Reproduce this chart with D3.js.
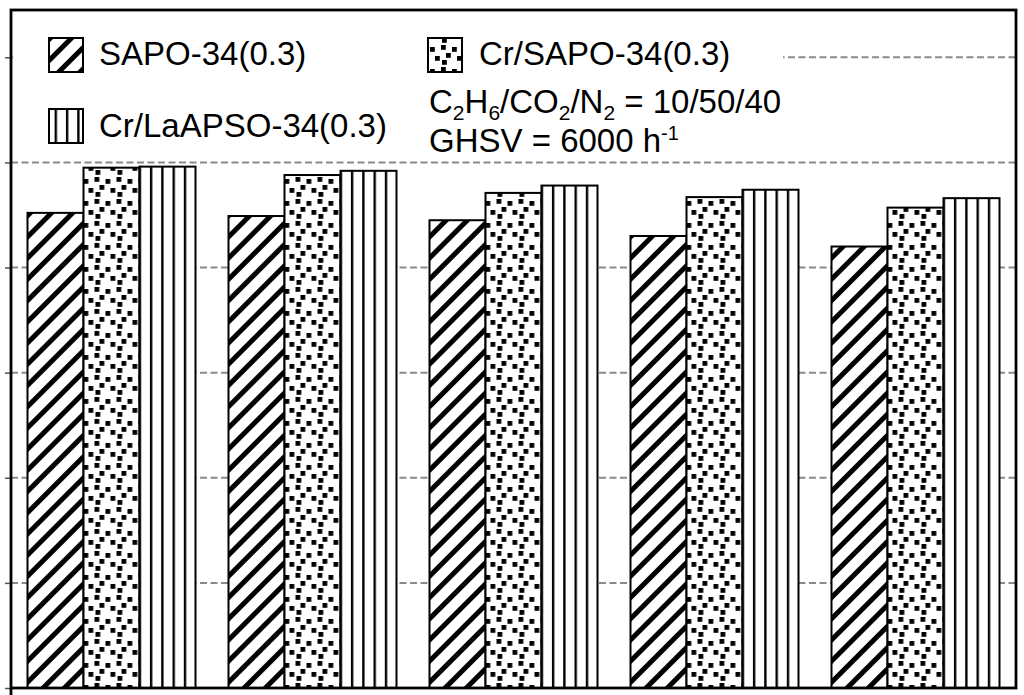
<!DOCTYPE html>
<html>
<head>
<meta charset="utf-8">
<script src="https://cdn.jsdelivr.net/npm/d3@7"></script>
<style>
  html, body { margin: 0; padding: 0; background: #fff; }
  svg { display: block; font-family: "Liberation Sans", Arial, sans-serif; }
</style>
</head>
<body>
<svg id="chart" width="1024" height="695"></svg>
<script>
// ---- data ----
const categories = ["1", "2", "3", "4", "5"];
const seriesNames = ["SAPO-34(0.3)", "Cr/SAPO-34(0.3)", "Cr/LaAPSO-34(0.3)"];
const sapoValues = [45.2, 44.9, 44.5, 43.0, 42.0];
const crSapoValues = [49.5, 48.8, 47.1, 46.7, 45.7];
const crLaValues = [49.6, 49.2, 47.8, 47.4, 46.6];
const yTicks = [0, 10, 20, 30, 40, 50, 60];

const seriesValues = [sapoValues, crSapoValues, crLaValues];
const patternIds = ["hatch", "dots", "vlines"];

const svg = d3.select("#chart");
const plot = { left: 11, right: 1016, top: 10, bottom: 688 };

// ---- patterns ----
const defs = svg.append("defs");
const hatch = defs.append("pattern").attr("id", "hatch")
  .attr("patternUnits", "userSpaceOnUse").attr("width", 15).attr("height", 15)
  .attr("patternTransform", "rotate(45)");
hatch.append("rect").attr("width", 15).attr("height", 15).attr("fill", "#fff");
hatch.append("rect").attr("x", 0).attr("width", 5).attr("height", 15).attr("fill", "#000");

const dots = defs.append("pattern").attr("id", "dots")
  .attr("patternUnits", "userSpaceOnUse").attr("width", 22).attr("height", 22);
dots.append("rect").attr("width", 22).attr("height", 22).attr("fill", "#fff");
const dotPos = [[1,1],[12,3],[6,9],[17,12],[2,16]];
dots.selectAll("rect.d").data(dotPos).join("rect").attr("class", "d")
  .attr("x", d => d[0]).attr("y", d => d[1]).attr("width", 4.8).attr("height", 4.8).attr("fill", "#000");

const vl = defs.append("pattern").attr("id", "vlines")
  .attr("patternUnits", "userSpaceOnUse").attr("x", 145).attr("width", 11.3).attr("height", 10);
vl.append("rect").attr("width", 11.3).attr("height", 10).attr("fill", "#fff");
vl.append("rect").attr("x", 0).attr("width", 2.4).attr("height", 10).attr("fill", "#000");

// ---- scales ----
const x0 = d3.scaleBand().domain(categories).range([plot.left, plot.right])
  .paddingInner(0.1642).paddingOuter(0.0821);
const x1 = d3.scaleBand().domain(seriesNames).range([0, x0.bandwidth()]).padding(0);
const y = d3.scaleLinear().domain([0, 64.5]).range([plot.bottom, plot.top]);

// ---- gridlines ----
svg.append("g").selectAll("line").data(yTicks.filter(t => t > 0)).join("line")
  .attr("x1", plot.left).attr("x2", plot.right)
  .attr("y1", d => y(d)).attr("y2", d => y(d))
  .attr("stroke", "#8a8a8a").attr("stroke-width", 2).attr("stroke-dasharray", "7,3.5");

// ---- y axis ticks (labels are outside the visible area) ----
const yAxis = svg.append("g").attr("transform", `translate(${plot.left},0)`)
  .call(d3.axisLeft(y).tickValues(yTicks).tickSize(6).tickFormat(""));
yAxis.select(".domain").remove();
yAxis.selectAll(".tick line").attr("stroke", "#555").attr("stroke-width", 1.5);

// ---- legend background ----
svg.append("rect").attr("x", 13).attr("y", 12).attr("width", 770).attr("height", 140).attr("fill", "#fff");

// ---- bars ----
const rows = categories.map((c, i) => ({ cat: c, vals: seriesNames.map((s, j) => ({ s, j, v: seriesValues[j][i] })) }));
const groups = svg.append("g").selectAll("g").data(rows).join("g")
  .attr("transform", d => `translate(${x0(d.cat)},0)`);
groups.selectAll("rect").data(d => d.vals).join("rect")
  .attr("x", d => x1(d.s)).attr("width", x1.bandwidth())
  .attr("y", d => y(d.v)).attr("height", d => y(0) - y(d.v))
  .attr("fill", d => `url(#${patternIds[d.j]})`)
  .attr("stroke", "#000").attr("stroke-width", 2);

// ---- frame ----
svg.append("rect").attr("x", plot.left).attr("y", plot.top)
  .attr("width", plot.right - plot.left).attr("height", plot.bottom - plot.top)
  .attr("fill", "none").attr("stroke", "#000").attr("stroke-width", 2.8);
svg.append("line").attr("x1", plot.left).attr("x2", plot.left).attr("y1", plot.bottom).attr("y2", 695)
  .attr("stroke", "#000").attr("stroke-width", 2.8);

// ---- legend ----
const legendItems = [
  { name: seriesNames[0], pid: patternIds[0], sx: 49, sy: 38, tx: 99, ty: 65 },
  { name: seriesNames[1], pid: patternIds[1], sx: 428, sy: 38, tx: 479, ty: 65 },
  { name: seriesNames[2], pid: patternIds[2], sx: 49, sy: 109, tx: 99, ty: 137 }
];
const lg = svg.append("g");
lg.selectAll("rect").data(legendItems).join("rect")
  .attr("x", d => d.sx).attr("y", d => d.sy).attr("width", 34).attr("height", 34)
  .attr("fill", d => `url(#${d.pid})`).attr("stroke", "#000").attr("stroke-width", 2);
lg.selectAll("text").data(legendItems).join("text")
  .attr("x", d => d.tx).attr("y", d => d.ty)
  .attr("font-size", 33).attr("fill", "#000").text(d => d.name);

// ---- annotation ----
const t1 = svg.append("text").attr("x", 429).attr("y", 113).attr("font-size", 33).attr("fill", "#000");
const parts = [["C",0],["2",1],["H",0],["6",1],["/CO",0],["2",1],["/N",0],["2",1],[" = 10/50/40",0]];
let prevSub = false;
parts.forEach(([txt, sub]) => {
  const ts = t1.append("tspan").text(txt);
  if (sub) { ts.attr("font-size", 21).attr("dy", prevSub ? 0 : 7); prevSub = true; }
  else { if (prevSub) ts.attr("dy", -7); prevSub = false; }
});
const t2 = svg.append("text").attr("x", 429).attr("y", 152).attr("font-size", 33).attr("fill", "#000");
t2.append("tspan").text("GHSV = 6000 h");
t2.append("tspan").text("-1").attr("font-size", 20).attr("dy", -12);
</script>
</body>
</html>
